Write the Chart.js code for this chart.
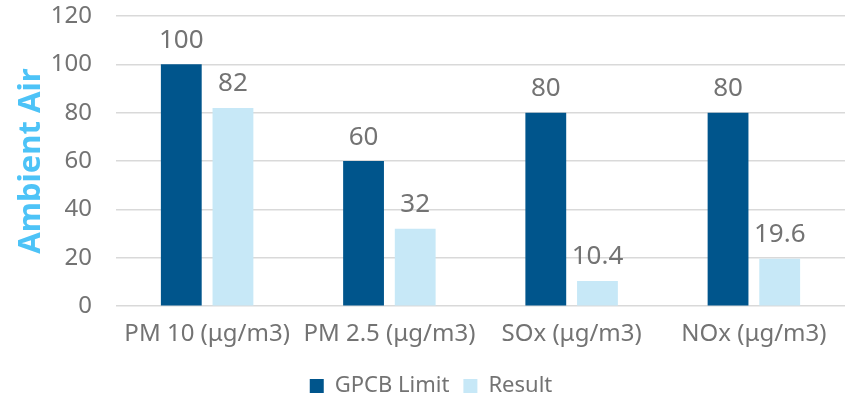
<!DOCTYPE html>
<html>
<head>
<meta charset="utf-8">
<script src="https://cdn.jsdelivr.net/npm/chart.js@4"></script>
<style>
  html, body { margin: 0; padding: 0; background: #fff; }
  #wrap { width: 854px; height: 396px; }
</style>
</head>
<body>
<div id="wrap"><canvas id="airChart"></canvas></div>
<script>
"use strict";

const categories = ['PM 10 (μg/m3)', 'PM 2.5 (μg/m3)', 'SOx (μg/m3)', 'NOx (μg/m3)'];
const limitValues = [100, 60, 80, 80];
const resultValues = [82, 32, 10.4, 19.6];

const textColor = '#737373';

// values above the bars
const barLabels = {
    id: 'barLabels',
    afterDatasetsDraw(chart) {
        const ctx = chart.ctx;
        ctx.save();
        ctx.font = '26px "Noto Sans", sans-serif';
        ctx.fillStyle = textColor;
        ctx.textAlign = 'center';
        ctx.textBaseline = 'bottom';
        chart.data.datasets.forEach((ds, i) => {
            chart.getDatasetMeta(i).data.forEach((bar, j) => {
                ctx.fillText(String(ds.data[j]), bar.x, bar.y - 11);
            });
        });
        ctx.restore();
    }
};

const air = document.getElementById('airChart').getContext('2d');
const airChart = new Chart(air, {
    type: 'bar',
    data: {
        labels: categories,
        datasets: [{
            label: 'GPCB Limit',
            data: limitValues,
            backgroundColor: '#00558c',
            categoryPercentage: 0.567,
            barPercentage: 0.79,
        }, {
            label: 'Result',
            data: resultValues,
            backgroundColor: '#c7e8f7',
            categoryPercentage: 0.567,
            barPercentage: 0.79,
        }]
    },
    options: {
        maintainAspectRatio: false,
        responsive: true,
        animation: false,
        layout: {
            padding: { top: 0, right: 9, left: 17, bottom: -11 }
        },
        plugins: {
            tooltip: { enabled: false },
            legend: {
                display: true,
                position: 'bottom',
                labels: {
                    boxWidth: 14,
                    boxHeight: 14,
                    padding: 14,
                    color: textColor,
                    font: { size: 22, family: '"Noto Sans", sans-serif' }
                }
            }
        },
        scales: {
            x: {
                afterFit(scale) {
                    scale.height = scale.height + 6;
                },
                grid: { display: false },
                border: { display: false },
                ticks: {
                    color: textColor,
                    padding: 6,
                    autoSkip: false,
                    maxRotation: 0,
                    minRotation: 0,
                    font: { size: 24, family: '"Noto Sans", sans-serif' }
                }
            },
            y: {
                min: 0,
                max: 120,
                afterFit(scale) {
                    scale.width = 99;
                    scale.paddingTop = 16;
                },
                ticks: {
                    stepSize: 20,
                    color: textColor,
                    padding: 24,
                    font: { size: 24, family: '"Noto Sans", sans-serif' }
                },
                border: { display: false },
                grid: {
                    color: '#d9d9d9',
                    lineWidth: 1.5,
                    drawTicks: false
                },
                title: {
                    display: true,
                    text: 'Ambient Air',
                    color: '#4dc3f7',
                    padding: 0,
                    font: { size: 31, weight: 'bold', lineHeight: 0.9, family: '"Noto Sans", sans-serif' }
                }
            }
        }
    },
    plugins: [barLabels]
});
</script>
</body>
</html>
